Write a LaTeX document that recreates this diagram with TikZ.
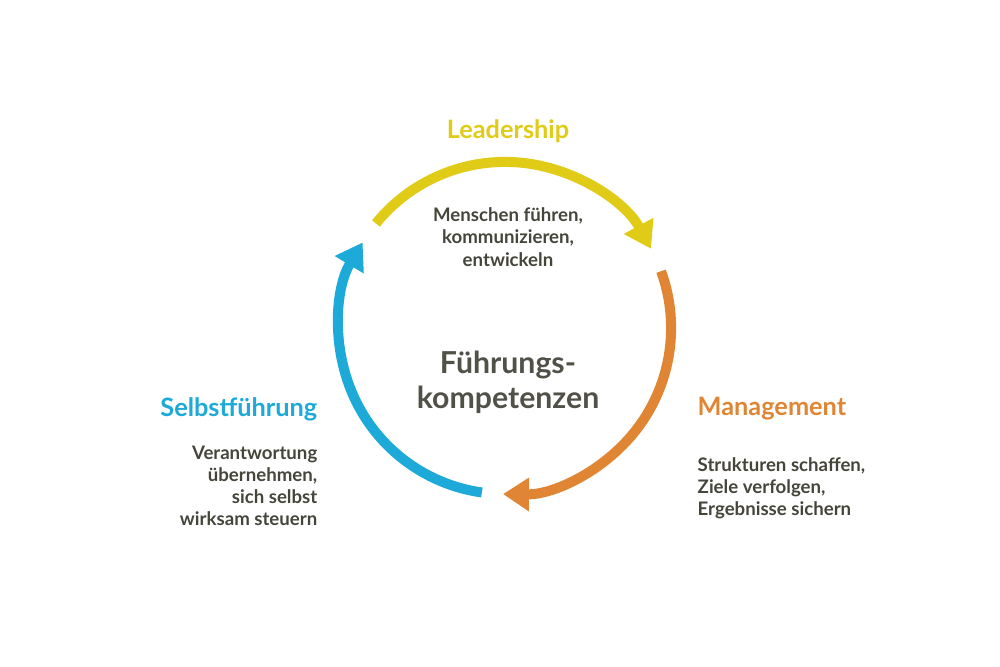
\documentclass[tikz,border=0pt]{standalone}
\usepackage{fontspec}
\setmainfont{Lato}
\usetikzlibrary{arrows.meta}
\definecolor{lead}{HTML}{E0CB17}
\definecolor{mgmt}{HTML}{E08533}
\definecolor{self}{HTML}{1EAAD9}
\definecolor{txt}{HTML}{45453A}
\begin{document}
\begin{tikzpicture}[x=0.01cm,y=0.01cm,
  ring/.style={line width=0.1cm,-{Triangle[width=0.32cm,length=0.26cm]}},
  head/.style={font=\fontsize{7.2}{8}\selectfont\bfseries},
  desc/.style={font=\fontsize{5.3}{6.3}\selectfont\bfseries,text=txt}]
  \useasboundingbox (0,0) rectangle (1000,666);
  \coordinate (C) at (505,338); % centre
  \draw[ring,lead] (C) ++(141:1.66cm) arc[start angle=141,end angle=28.5,radius=1.66cm];
  \draw[ring,mgmt] (C) ++(20:1.66cm) arc[start angle=20,end angle=-90.7,radius=1.66cm];
  \draw[ring,self] (C) ++(-98:1.66cm) arc[start angle=-98,end angle=-211,radius=1.66cm];
  \node (center) at (508,284) [align=center,text=txt!80!gray,font=\fontsize{8.6}{10}\selectfont\bfseries] {Führungs-\\kompetenzen};
  \node (leadT) at (508,535) [head,text=lead] {Leadership};
  \node (leadD) at (508,429) [desc,align=center] {Menschen führen,\\kommunizieren,\\entwickeln};
  \node (mgmtT) at (697,257) [head,text=mgmt,anchor=west,inner sep=0pt] {Management};
  \node (mgmtD) at (697,178) [desc,align=left,anchor=west,inner sep=0pt] {Strukturen schaffen,\\Ziele verfolgen,\\Ergebnisse sichern};
  \node (selfT) at (318,257) [head,text=self,anchor=east,inner sep=0pt] {Selbstführung};
  \node (selfD) at (318,180) [desc,align=right,anchor=east,inner sep=0pt] {Verantwortung\\übernehmen,\\sich selbst\\wirksam steuern};
\end{tikzpicture}
\end{document}
